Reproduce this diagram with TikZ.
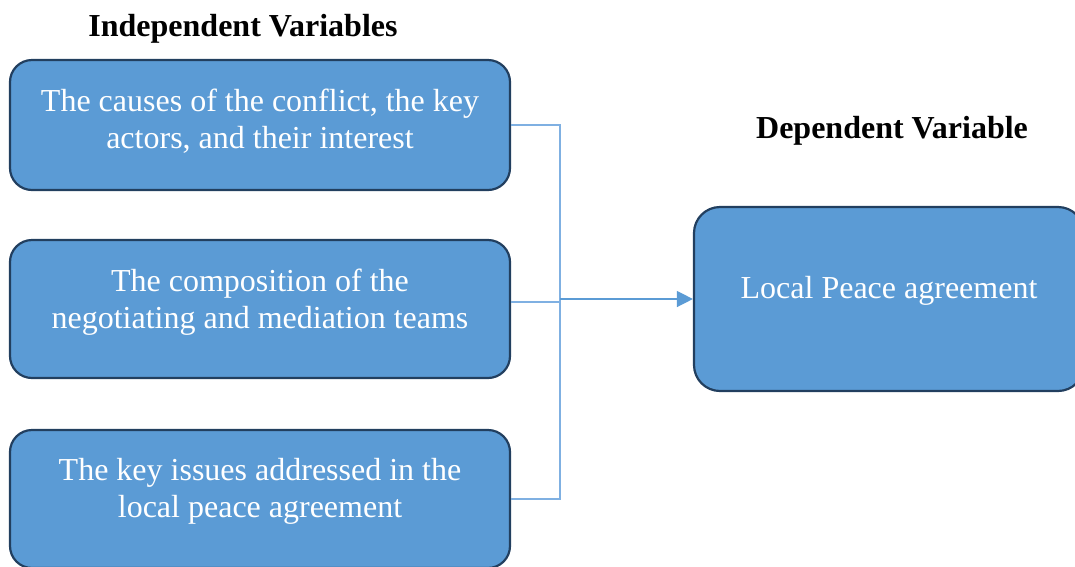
\documentclass[tikz,border=0pt]{standalone}
\usepackage{fontspec}
\setmainfont{Liberation Serif}
\usepackage{tikz}
\usetikzlibrary{arrows.meta}
\definecolor{boxblue}{HTML}{5B9BD5}
\definecolor{boxedge}{HTML}{223F5F}
\definecolor{linkblue}{HTML}{7FB0E2}
\tikzstyle{varbox}=[rectangle, rounded corners=22pt, draw=boxedge, line width=2.2pt, fill=boxblue]
\tikzstyle{boxtext}=[align=center, text=white, font=\fontsize{32}{37}\selectfont]
\tikzstyle{heading}=[font=\fontsize{32}{37}\selectfont\bfseries]
\tikzstyle{link}=[draw=linkblue, line width=1.4pt]

\begin{document}
\begin{tikzpicture}[x=1pt, y=-1pt]

      \useasboundingbox (0,0) rectangle (1075,566);

      \node[heading] (indep) at (243,29) {Independent Variables};
      \node[heading] (dep) at (892,131) {Dependent Variable};

      \node[varbox, minimum width=500pt, minimum height=130pt] (c1) at (260,125) {};
      \node[varbox, minimum width=500pt, minimum height=138pt] (c2) at (260,309) {};
      \node[varbox, minimum width=500pt, minimum height=138pt] (c3) at (260,499) {};
      \node[varbox, rounded corners=26pt, minimum width=390pt, minimum height=184pt] (lpa) at (889,299) {};

      \node[boxtext] (t1) at (260,121) {The causes of the conflict, the key\\actors, and their interest};
      \node[boxtext] (t2) at (260,302) {The composition of the\\negotiating and mediation teams};
      \node[boxtext] (t3) at (260,491) {The key issues addressed in the\\local peace agreement};
      \node[boxtext] (t4) at (889,291) {Local Peace agreement};

      \coordinate (j) at (560,299);

      \draw[link] (c1.east) -| (j);
      \draw[link] ([yshift=7pt]c2.east) -- ([yshift=7pt]c2.east -| j);
      \draw[link] (c3.east) -| (j);
      \draw[link, -{Triangle[length=16pt, width=16pt]}, draw=boxblue, fill=boxblue] (j) -- (lpa.west);

    \end{tikzpicture}
\end{document}
